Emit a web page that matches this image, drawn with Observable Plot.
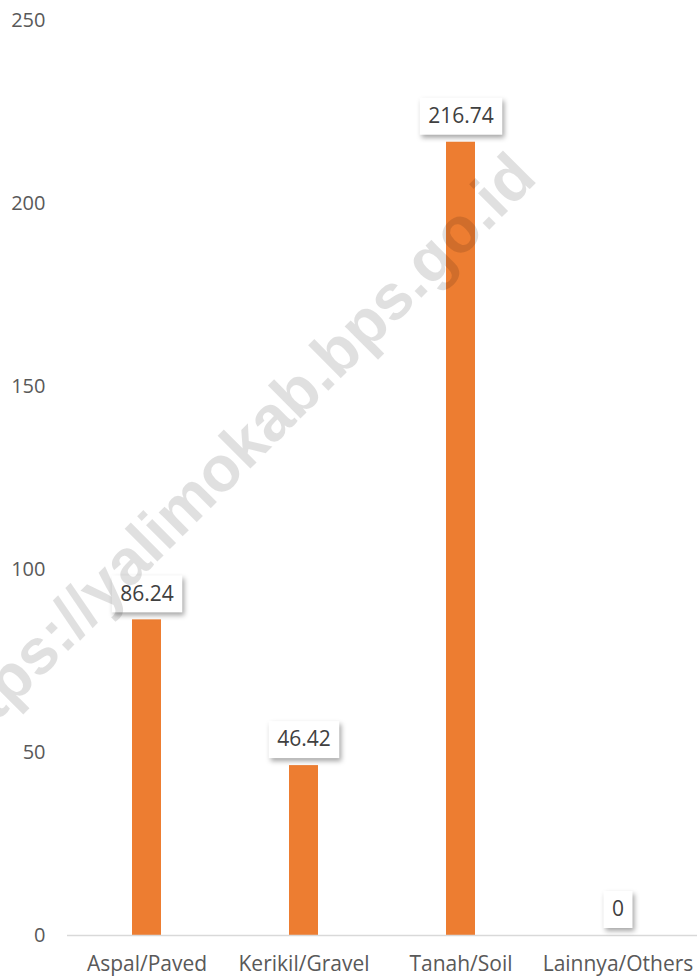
<!DOCTYPE html>
<html>
<head>
<meta charset="utf-8">
<script src="https://cdn.jsdelivr.net/npm/d3@7"></script>
<script src="https://cdn.jsdelivr.net/npm/@observablehq/plot@0.6"></script>
<style>
  html, body { margin: 0; padding: 0; background: #fff; }
  #wrap { position: relative; width: 697px; height: 977px; overflow: hidden; }
  #wm { position: absolute; left: 0; top: 0; pointer-events: none; }
</style>
</head>
<body>
<div id="wrap"></div>
<script>
const categories = ["Aspal/Paved", "Kerikil/Gravel", "Tanah/Soil", "Lainnya/Others"];
const values = [86.24, 46.42, 216.74, 0];
const yTicks = [0, 50, 100, 150, 200, 250];
const watermark = "https://yalimokab.bps.go.id";

const data = categories.map((c, i) => ({cat: c, val: values[i]}));

const FONT = "'Open Sans', sans-serif";
const ctx = document.createElement("canvas").getContext("2d");
ctx.font = "21px 'Open Sans'";

function labelBoxes(index, scales, vals, dimensions, context, next) {
  const g = next(index, scales, vals, dimensions, context);
  const ns = "http://www.w3.org/2000/svg";
  const first = g.firstChild;
  for (const i of index) {
    const txt = String(data[i].val);
    const w = ctx.measureText(txt).width + 17;
    const h = 37;
    const r = document.createElementNS(ns, "rect");
    r.setAttribute("x", vals.x[i] - w / 2);
    r.setAttribute("y", vals.y[i] - h / 2);
    r.setAttribute("width", w);
    r.setAttribute("height", h);
    r.setAttribute("fill", "#fff");
    r.setAttribute("stroke", "none");
    r.setAttribute("style", "filter: drop-shadow(2px 3px 2.5px rgba(0,0,0,0.35))");
    g.insertBefore(r, first);
  }
  return g;
}

const chart = Plot.plot({
  width: 697,
  height: 977,
  marginTop: 20,
  marginBottom: 42,
  marginLeft: 67,
  marginRight: 0,
  style: {fontFamily: FONT, fontSize: "20px", color: "#595959", background: "#fff"},
  x: {domain: categories, paddingInner: 0.816, paddingOuter: 0.408, label: null},
  y: {domain: [0, 250], label: null},
  marks: [
    Plot.axisY({ticks: yTicks, tickSize: 0, tickPadding: 22, fontSize: 20, fill: "#595959", label: null}),
    Plot.axisX({tickSize: 0, tickPadding: 21, fontSize: 21, fill: "#595959", label: null}),
    Plot.barY(data, {x: "cat", y: "val", fill: "#ed7d31"}),
    Plot.ruleY([0], {stroke: "#d9d9d9", strokeWidth: 1.5}),
    Plot.text(data, {
      x: "cat", y: "val", text: d => String(d.val), dy: -26,
      fill: "#404040", fontSize: 21, textAnchor: "middle", lineAnchor: "middle",
      render: labelBoxes
    })
  ]
});

const wrap = document.getElementById("wrap");
wrap.appendChild(chart);

// watermark overlay
const ns = "http://www.w3.org/2000/svg";
const wm = document.createElementNS(ns, "svg");
wm.setAttribute("id", "wm");
wm.setAttribute("width", 697);
wm.setAttribute("height", 977);
const t = document.createElementNS(ns, "text");
t.setAttribute("transform", "translate(246,473) rotate(-45)");
t.setAttribute("text-anchor", "middle");
t.setAttribute("font-family", "'Liberation Sans', Arial, sans-serif");
t.setAttribute("font-weight", "bold");
t.setAttribute("font-size", 64);
t.setAttribute("fill", "rgba(0,0,0,0.12)");
t.textContent = watermark;
wm.appendChild(t);
wrap.appendChild(wm);
</script>
</body>
</html>
